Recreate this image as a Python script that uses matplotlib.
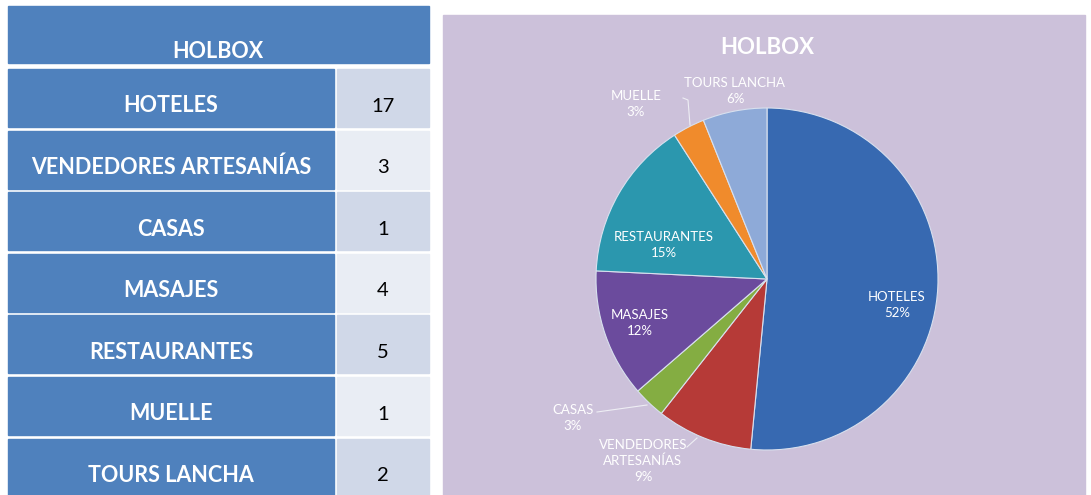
import matplotlib.pyplot as plt
from matplotlib.patches import Rectangle

plt.rcParams['font.family'] = ['Lato', 'DejaVu Sans']

# data
title = 'HOLBOX'
categories = ['HOTELES', 'VENDEDORES ARTESANÍAS', 'CASAS', 'MASAJES',
              'RESTAURANTES', 'MUELLE', 'TOURS LANCHA']
pie_labels = ['HOTELES', 'VENDEDORES\nARTESANÍAS', 'CASAS', 'MASAJES',
              'RESTAURANTES', 'MUELLE', 'TOURS LANCHA']
counts = [17, 3, 1, 4, 5, 1, 2]
wedge_colors = ['#3769b1', '#b63a37', '#84ad42', '#6b4b9d',
                '#2b97ae', '#f08b2c', '#8eaad8']

# label placement (pixels, relative to pie centre)
label_pos = [(130, -26), (-124, -182), (-194, -139), (-127, -44),
             (-103, 34), (-131, 175), (-32, 188)]
leaders = {1: [(-80, -168), (-70, -159)],
           2: [(-170, -133), (-120, -126)],
           5: [(-84, 181), (-79, 179), (-77, 154)]}

W, H = 1091, 495
fig = plt.figure(figsize=(W / 100, H / 100), dpi=100)
bg = fig.add_axes([0, 0, 1, 1])
bg.set_xlim(0, W)
bg.set_ylim(H, 0)
bg.axis('off')

# --- table ---
head_col = '#4f81bd'
bg.add_patch(Rectangle((8, 6), 421, 57, color=head_col))
bg.text(218, 52, title, color='white', fontsize=15.5, fontweight='bold',
        ha='center', va='center')
row_h, step, top0 = 58, 61.6, 69
for i, (cat, n) in enumerate(zip(categories, counts)):
    top = top0 + i * step
    bg.add_patch(Rectangle((8, top), 326, row_h, color=head_col))
    bg.add_patch(Rectangle((337, top), 92, row_h,
                           color='#d0d8e8' if i % 2 == 0 else '#e9edf4'))
    bg.text(171, top + 37, cat, color='white', fontsize=15.5,
            fontweight='bold', ha='center', va='center')
    bg.text(383, top + 37, str(n), color='black', fontsize=14.5,
            ha='center', va='center')

# --- chart panel ---
bg.add_patch(Rectangle((443, 15), 642, 480, color='#ccc1da'))
bg.text(767, 47, title, color='white', fontsize=16, fontweight='bold',
        ha='center', va='center')

cx, cy, half = 767, 279, 230
ax = fig.add_axes([(cx - half) / W, (H - cy - half) / H, 2 * half / W, 2 * half / H])
ax.pie(counts, colors=wedge_colors, startangle=90, counterclock=False,
       radius=171, wedgeprops=dict(edgecolor='#d8e0ee', linewidth=0.8))
ax.set_xlim(-half, half)
ax.set_ylim(-half, half)
ax.axis('off')

total = sum(counts)
for i, (lab, n) in enumerate(zip(pie_labels, counts)):
    x, y = label_pos[i]
    ax.text(x, y, f'{lab}\n{round(100 * n / total)}%', color='white',
            fontsize=9.5, ha='center', va='center', linespacing=1.4)
for pts in leaders.values():
    xs, ys = zip(*pts)
    ax.plot(xs, ys, color='#eeeef4', lw=0.8)

fig.savefig('out.png', dpi=100)
